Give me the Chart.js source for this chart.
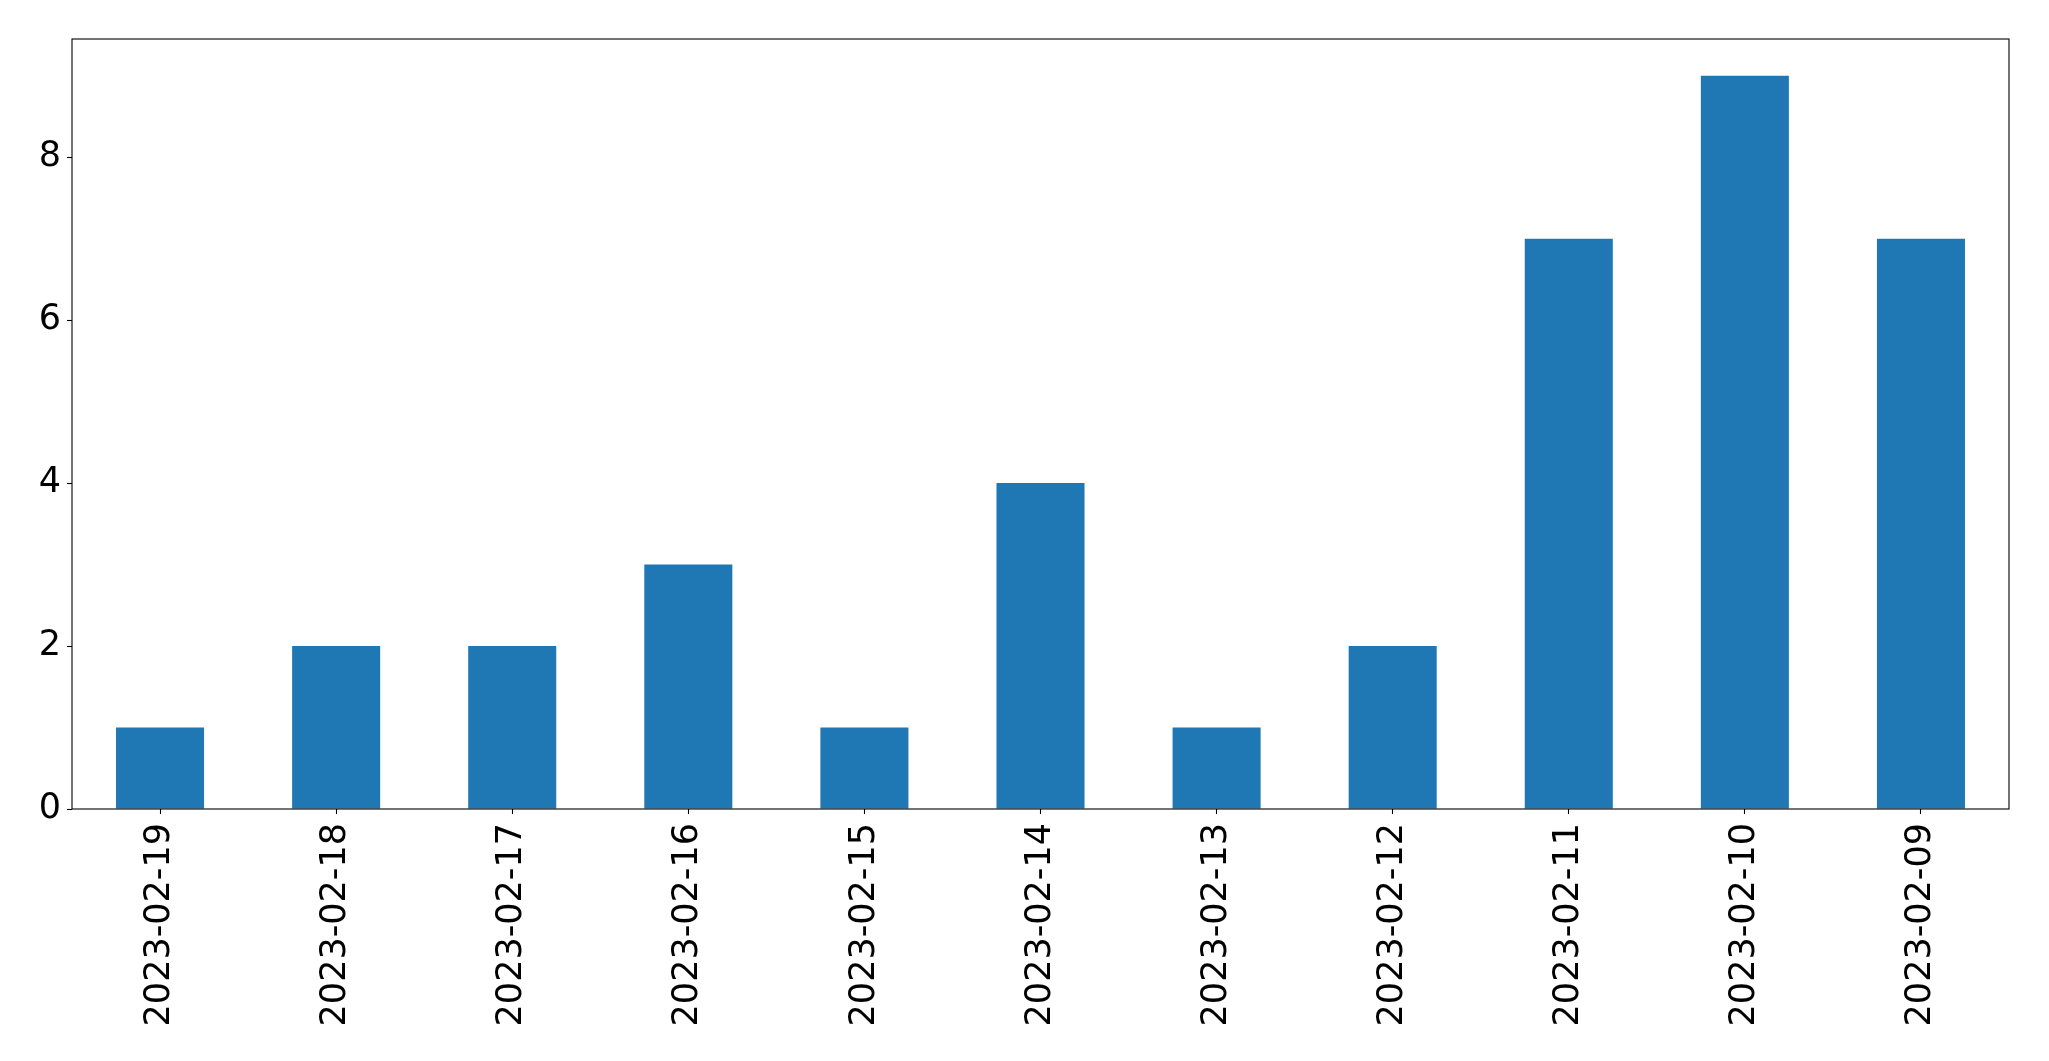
<!DOCTYPE html>
<html>
<head>
<meta charset="utf-8">
<script src="https://cdn.jsdelivr.net/npm/chart.js@4.4.0/dist/chart.umd.min.js"></script>
<style>
  html, body { margin: 0; padding: 0; background: #fff; }
  #wrap { width: 2049px; height: 1061px; }
</style>
</head>
<body>
<div id="wrap"><canvas id="barChart" width="2049" height="1061"></canvas></div>
<script>
const dates = ["2023-02-19", "2023-02-18", "2023-02-17", "2023-02-16", "2023-02-15", "2023-02-14",
               "2023-02-13", "2023-02-12", "2023-02-11", "2023-02-10", "2023-02-09"];
const counts = [1, 2, 2, 3, 1, 4, 1, 2, 7, 9, 7];
const yTicks = [0, 2, 4, 6, 8];

const tickFont = { family: "'DejaVu Sans', sans-serif", size: 35 };

// draw the four spines like matplotlib
const frame = {
    id: "frame",
    afterDraw(chart) {
        const a = chart.chartArea;
        const c = chart.ctx;
        c.save();
        c.strokeStyle = "#000";
        c.lineWidth = 1.1;
        c.strokeRect(a.left, a.top, a.right - a.left, a.bottom - a.top);
        c.restore();
    }
};

new Chart(document.getElementById("barChart").getContext("2d"), {
    type: "bar",
    data: {
        labels: dates,
        datasets: [{
            data: counts,
            backgroundColor: "#1f77b4",
            barPercentage: 0.5,
            categoryPercentage: 1.0
        }]
    },
    options: {
        responsive: false,
        animation: false,
        layout: { padding: { top: 39, right: 40, left: 0, bottom: 0 } },
        plugins: { legend: { display: false }, tooltip: { enabled: false } },
        scales: {
            x: {
                offset: true,
                grid: { offset: false, drawOnChartArea: false, tickLength: 5, tickColor: "#000", tickWidth: 1.1 },
                border: { display: false },
                ticks: { color: "#000", font: tickFont, minRotation: 90, maxRotation: 90, padding: 9, autoSkip: false },
                afterFit: s => { s.height = 252; }
            },
            y: {
                min: 0,
                max: 9.45,
                grid: { drawOnChartArea: false, tickLength: 5, tickColor: "#000", tickWidth: 1.1 },
                border: { display: false },
                ticks: { color: "#000", font: tickFont, stepSize: 2, includeBounds: false, padding: 6 },
                afterBuildTicks: s => { s.ticks = yTicks.map(v => ({ value: v })); },
                afterFit: s => { s.width = 72; }
            }
        }
    },
    plugins: [frame]
});
</script>
</body>
</html>
